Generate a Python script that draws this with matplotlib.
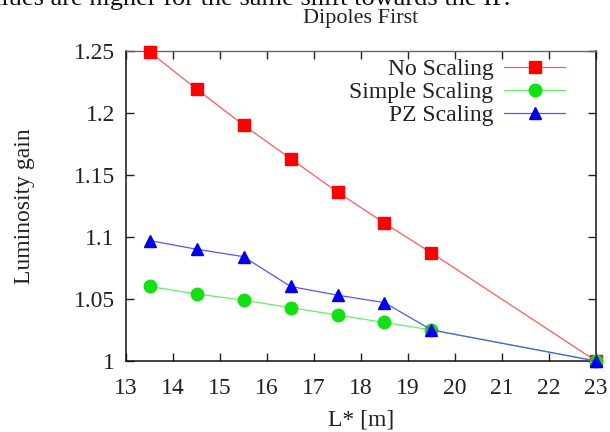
import matplotlib
matplotlib.use("Agg")
import matplotlib.pyplot as plt
from matplotlib.ticker import FuncFormatter

plt.rcParams['font.family'] = ['Liberation Serif', 'DejaVu Serif']

# L* positions and luminosity gain for the three optics scalings
l_star = [13.5, 14.5, 15.5, 16.5, 17.5, 18.5, 19.5, 23.0]
no_scaling = [1.249, 1.219, 1.190, 1.163, 1.136, 1.111, 1.087, 1.000]
simple_scaling = [1.060, 1.054, 1.049, 1.043, 1.037, 1.031, 1.025, 1.000]
pz_scaling = [1.097, 1.090, 1.084, 1.060, 1.053, 1.047, 1.025, 1.000]

x_ticks = list(range(13, 24))
y_ticks = [1.0, 1.05, 1.1, 1.15, 1.2, 1.25]

fig = plt.figure(figsize=(6.10, 4.32), dpi=100)
ax = fig.add_axes([0.2066, 0.1644, 0.7704, 0.7186])

series = [
    ("No Scaling", no_scaling, 's', '#ff0000', '#ff5a5a', 9.0),
    ("Simple Scaling", simple_scaling, 'o', '#11e011', '#66ee66', 9.0),
    ("PZ Scaling", pz_scaling, '^', '#0000ee', '#5555ff', 8.0),
]
for label, values, marker, mcol, lcol, ms in series:
    ax.plot(l_star, values, color=lcol, lw=0.9, marker=marker, ms=ms,
            mfc=mcol, mec=mcol, label=label, clip_on=False, zorder=3)

ax.set_xlim(13, 23)
ax.set_ylim(1.0, 1.25)
ax.set_xticks(x_ticks)
ax.set_yticks(y_ticks)
ax.yaxis.set_major_formatter(FuncFormatter(lambda v, p: f"{v:g}"))
ax.tick_params(direction='in', top=True, right=True, length=6, width=1,
               labelsize=17, pad=8, colors='#222222')
ax.tick_params(axis='x', pad=12)
for side in ['left', 'bottom', 'right']:
    ax.spines[side].set_linewidth(1.1)
    ax.spines[side].set_color('#111111')
ax.spines['top'].set_color('#666666')
ax.spines['top'].set_linewidth(1.0)

ax.set_xlabel("L* [m]", fontsize=17, color='#222222', labelpad=8)
ax.set_ylabel("Luminosity gain", fontsize=17, color='#222222', labelpad=28)
ax.set_title("Dipoles First", fontsize=16, color='#222222', pad=20)

leg = ax.legend(loc='upper right', bbox_to_anchor=(0.975, 1.035), frameon=False,
                markerfirst=False, fontsize=17, handlelength=2.6,
                handletextpad=0.45, labelspacing=0.07, borderpad=0.3)
for t in leg.get_texts():
    t.set_color('#222222')

fig.text(510 / 610, 1 - 5 / 432,
         "In this case the values are higher for the same shift towards the IP.",
         ha='right', va='baseline', fontsize=19, color='#111111')

fig.savefig("out.png", dpi=100)
